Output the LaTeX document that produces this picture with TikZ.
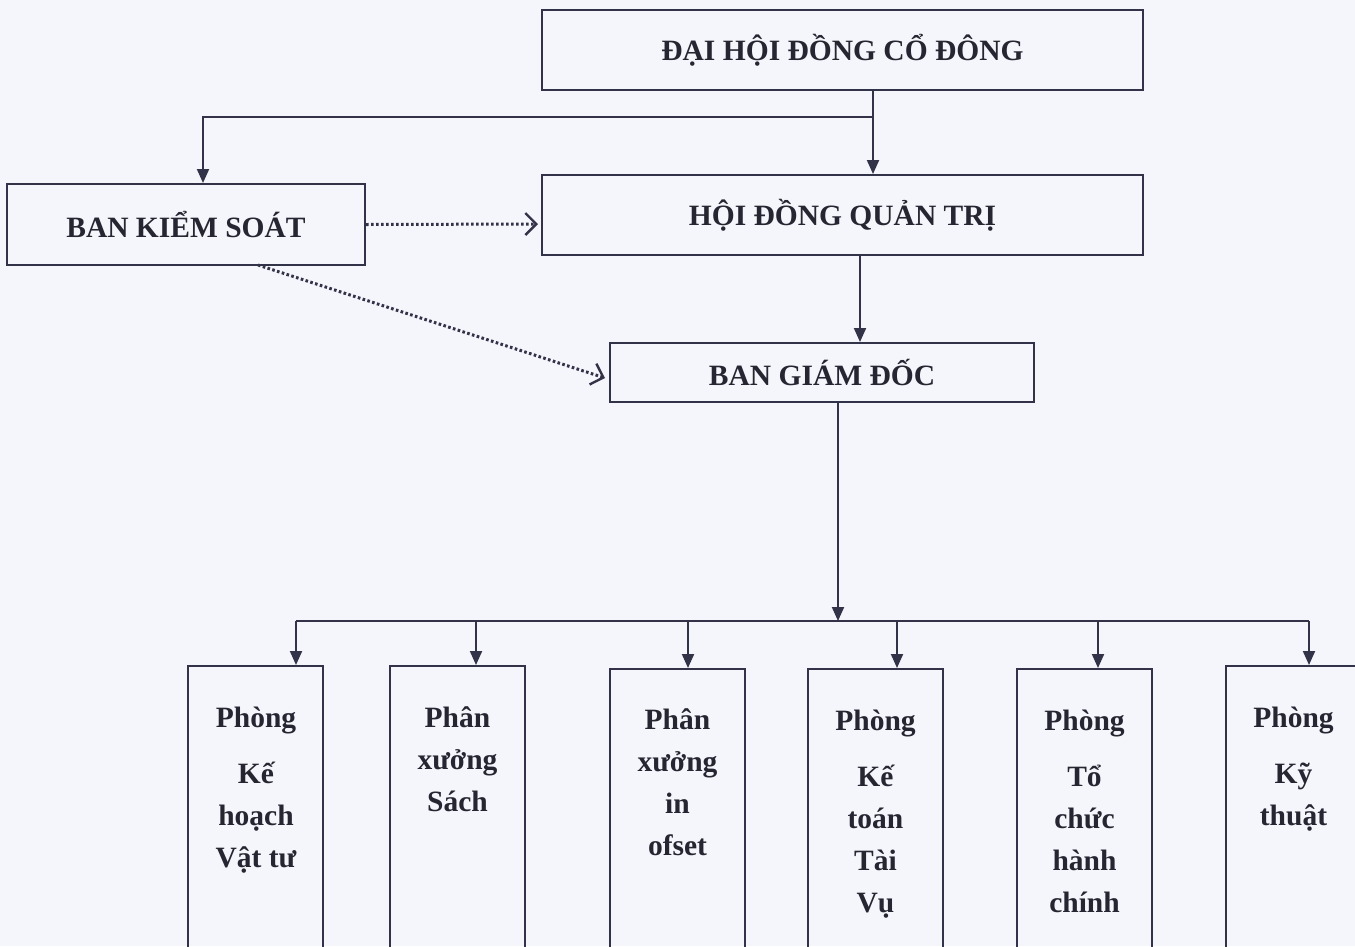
\documentclass[tikz,border=0pt]{standalone}
\usepackage{fontspec}
\setmainfont{Liberation Serif}
\usetikzlibrary{arrows.meta,calc}
\definecolor{ink}{RGB}{50,50,72}
\definecolor{txt}{RGB}{38,38,50}
\definecolor{paper}{RGB}{245,246,251}
\begin{document}
\begin{tikzpicture}[x=1pt,y=-1pt,
  box/.style={draw=ink, line width=2pt, text=txt, inner sep=0pt,
    font=\bfseries\fontsize{29.5}{35}\selectfont},
  dept/.style={draw=ink, line width=2pt, inner sep=0pt, minimum width=135, minimum height=340, anchor=north},
  depttext/.style={text=txt, inner sep=0pt, anchor=north, align=center,
    font=\bfseries\fontsize{29.5}{42}\selectfont},
  arr/.style={draw=ink, line width=2pt, -{Triangle[length=14pt,width=12pt]}},
  plain/.style={draw=ink, line width=2pt},
  dot/.style={draw=ink, line width=3pt, dash pattern=on 2.6pt off 2.4pt, -{Straight Barb[length=11pt,width=22pt,line width=2.4pt]}}
]
\fill[paper] (0,0) rectangle (1355,946);
\useasboundingbox (0,0) rectangle (1355,946);
\clip (0,0) rectangle (1355,946);

% top boxes
\node[box, minimum width=601, minimum height=80] (dh) at (842.5,50) {\raisebox{-2pt}{ĐẠI HỘI ĐỒNG CỔ ĐÔNG}};
\node[box, minimum width=601, minimum height=80] (hd) at (842.5,215) {\raisebox{-2pt}{HỘI ĐỒNG QUẢN TRỊ}};
\node[box, minimum width=358, minimum height=81] (bks) at (186,224.5) {\raisebox{-2pt}{BAN KIỂM SOÁT}};
\node[box, minimum width=424, minimum height=59] (bg) at (822,372.5) {\raisebox{-3pt}{BAN GIÁM ĐỐC}};

% department boxes
\node[dept] (b1) at (255,665) {};
\node[dept] (b2) at (457.5,665) {};
\node[dept] (b3) at (677.5,668) {};
\node[dept] (b4) at (875.5,668) {};
\node[dept] (b5) at (1084.5,668) {};
\node[dept] (b6) at (1293.5,665) {};

\node[depttext] (t1) at (256,707) {Phòng\\[14pt]Kế\\hoạch\\Vật tư};
\node[depttext] (t2) at (457.5,706) {Phân\\xưởng\\Sách};
\node[depttext] (t3) at (677.5,708) {Phân\\xưởng\\in\\ofset};
\node[depttext] (t4) at (875.5,710) {Phòng\\[14pt]Kế\\toán\\Tài\\Vụ};
\node[depttext] (t5) at (1084.5,710) {Phòng\\[14pt]Tổ\\chức\\hành\\chính};
\node[depttext] (t6) at (1293.5,707) {Phòng\\[14pt]Kỹ\\thuật};

% connector coordinates
\coordinate (j1) at (873,117);
\coordinate (k1) at (203,117);
\coordinate (x2) at (860,0);
\coordinate (bus) at (838,621);
\coordinate (d1) at (296,621);
\coordinate (d2) at (476,621);
\coordinate (d3) at (688,621);
\coordinate (d4) at (897,621);
\coordinate (d5) at (1098,621);
\coordinate (d6) at (1309,621);
\coordinate (s1) at (258,265);

% solid connectors
\draw[arr] (dh.south -| j1) -- (hd.north -| j1);
\draw[arr] (j1) -- (k1) -- (bks.north -| k1);
\draw[arr] (hd.south -| x2) -- (bg.north -| x2);
\draw[arr] (bg.south -| bus) -- (bus);
\draw[plain] (d1) -- (d6);
\draw[arr] (d1) -- (b1.north -| d1);
\draw[arr] (d2) -- (b2.north -| d2);
\draw[arr] (d3) -- (b3.north -| d3);
\draw[arr] (d4) -- (b4.north -| d4);
\draw[arr] (d5) -- (b5.north -| d5);
\draw[arr] (d6) -- (b6.north -| d6);

% dotted connectors
\draw[dot] (bks.east) -- ($(hd.west)+(-3,9)$);
\draw[dot] (s1) -- ($(bg.west)+(-4,5.5)$);
\end{tikzpicture}
\end{document}
